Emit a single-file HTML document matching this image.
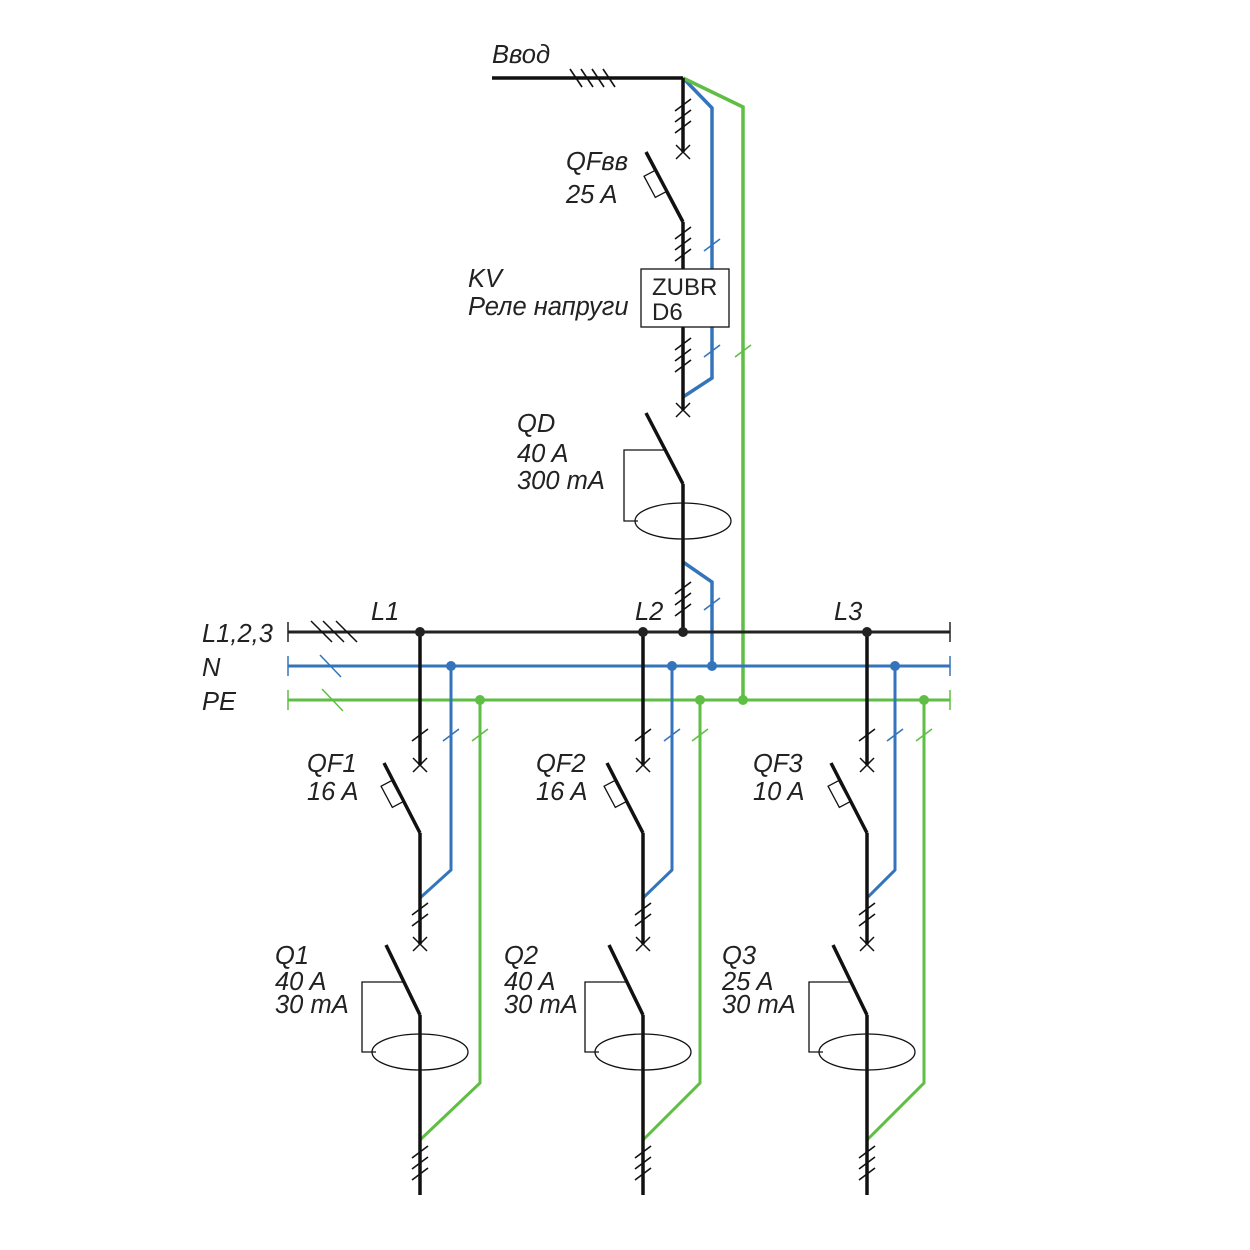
<!DOCTYPE html>
<html><head><meta charset="utf-8"><style>
html,body{margin:0;padding:0;background:#fff}
svg{display:block}
text{font-family:"Liberation Sans",sans-serif;font-style:italic;font-size:25.5px;fill:#222}
</style></head><body>
<svg width="1250" height="1250" viewBox="0 0 1250 1250" xmlns="http://www.w3.org/2000/svg">
<defs>
<g id="tick"><line x1="-8" y1="6" x2="8" y2="-6" stroke-width="1.6"/></g>
<g id="tk2"><line x1="-6" y1="-9" x2="6" y2="9" stroke-width="1.6"/></g>
<g id="xx"><line x1="-7" y1="-7" x2="7" y2="7" stroke="#111" stroke-width="1.5"/><line x1="-7" y1="7" x2="7" y2="-7" stroke="#111" stroke-width="1.5"/></g>
</defs>

<text x="492" y="63">Ввод</text>
<polyline points="683,78 712,108 712,378 683,397" fill="none" stroke="#3474bb" stroke-width="3.5"/>
<polyline points="683,78 743,107 743,700" fill="none" stroke="#5fbe44" stroke-width="3.5"/>
<line x1="492" y1="78" x2="683" y2="78" stroke="#111" stroke-width="3.5"/>
<g stroke="#111"><use href="#tk2" x="576" y="78"/><use href="#tk2" x="587" y="78"/><use href="#tk2" x="598" y="78"/><use href="#tk2" x="609" y="78"/></g>
<line x1="683" y1="78" x2="683" y2="152" stroke="#111" stroke-width="3.5"/>
<g stroke="#111"><use href="#tick" x="683" y="105"/><use href="#tick" x="683" y="116"/><use href="#tick" x="683" y="127"/></g>
<use href="#xx" x="683" y="152"/>

<text x="566" y="170">QFвв</text>
<text x="566" y="203">25 A</text>
<line x1="646" y1="152" x2="683" y2="222" stroke="#111" stroke-width="3.5"/>
<rect x="649" y="172" width="12" height="24" fill="#fff" stroke="#111" stroke-width="1.3" transform="rotate(-28 655 184)"/>
<line x1="683" y1="222" x2="683" y2="269" stroke="#111" stroke-width="3.5"/>
<g stroke="#111"><use href="#tick" x="683" y="233"/><use href="#tick" x="683" y="244"/><use href="#tick" x="683" y="255"/></g>
<g stroke="#3474bb"><use href="#tick" x="712" y="245"/><use href="#tick" x="712" y="351"/></g>
<g stroke="#5fbe44"><use href="#tick" x="743" y="351"/></g>

<text x="468" y="287">KV</text>
<text x="468" y="315">Реле напруги</text>
<rect x="641" y="269" width="88" height="58" fill="#fff" stroke="#111" stroke-width="1.3"/>
<text x="652" y="295" style="font-style:normal;font-size:24px">ZUBR</text>
<text x="652" y="320" style="font-style:normal;font-size:24px">D6</text>
<line x1="683" y1="327" x2="683" y2="410" stroke="#111" stroke-width="3.5"/>
<g stroke="#111"><use href="#tick" x="683" y="344"/><use href="#tick" x="683" y="355"/><use href="#tick" x="683" y="366"/></g>
<use href="#xx" x="683" y="410"/>

<text x="517" y="432">QD</text>
<text x="517" y="462">40 A</text>
<text x="517" y="489">300 mA</text>
<line x1="646" y1="413" x2="683" y2="484" stroke="#111" stroke-width="3.5"/>
<polyline points="664,450 624,450 624,521 638,521" fill="none" stroke="#111" stroke-width="1.3"/>
<ellipse cx="683" cy="521" rx="48" ry="18" fill="none" stroke="#111" stroke-width="1.3"/>
<polyline points="683,562 712,582 712,666" fill="none" stroke="#3474bb" stroke-width="3.5"/>
<line x1="683" y1="484" x2="683" y2="632" stroke="#111" stroke-width="3.5"/>
<g stroke="#111"><use href="#tick" x="683" y="588"/><use href="#tick" x="683" y="599"/><use href="#tick" x="683" y="610"/></g>
<g stroke="#3474bb"><use href="#tick" x="712" y="604"/></g>

<text x="202" y="642">L1,2,3</text>
<text x="202" y="676">N</text>
<text x="202" y="710">PE</text>
<text x="371" y="620">L1</text>
<text x="635" y="620">L2</text>
<text x="834" y="620">L3</text>
<line x1="288" y1="632" x2="950" y2="632" stroke="#222" stroke-width="3"/>
<line x1="288" y1="666" x2="950" y2="666" stroke="#3474bb" stroke-width="3"/>
<line x1="288" y1="700" x2="950" y2="700" stroke="#5fbe44" stroke-width="3"/>
<line x1="288" y1="622" x2="288" y2="642" stroke="#222" stroke-width="1.5"/>
<line x1="950" y1="622" x2="950" y2="642" stroke="#222" stroke-width="1.5"/>
<line x1="288" y1="656" x2="288" y2="676" stroke="#3474bb" stroke-width="1.5"/>
<line x1="950" y1="656" x2="950" y2="676" stroke="#3474bb" stroke-width="1.5"/>
<line x1="288" y1="690" x2="288" y2="710" stroke="#5fbe44" stroke-width="1.5"/>
<line x1="950" y1="690" x2="950" y2="710" stroke="#5fbe44" stroke-width="1.5"/>
<g stroke="#111" stroke-width="1.5"><line x1="311" y1="621" x2="332" y2="642"/><line x1="323" y1="621" x2="344" y2="642"/><line x1="336" y1="621" x2="357" y2="642"/></g>
<line x1="320" y1="655" x2="341" y2="677" stroke="#3474bb" stroke-width="1.5"/>
<line x1="322" y1="689" x2="343" y2="711" stroke="#5fbe44" stroke-width="1.5"/>

<g fill="none" stroke-width="3">
<polyline points="451,666 451,870 420,898" stroke="#3474bb"/>
<polyline points="672,666 672,870 643,898" stroke="#3474bb"/>
<polyline points="895,666 895,870 867,898" stroke="#3474bb"/>
<polyline points="480,700 480,1083 420,1140" stroke="#5fbe44"/>
<polyline points="700,700 700,1083 643,1140" stroke="#5fbe44"/>
<polyline points="924,700 924,1083 867,1140" stroke="#5fbe44"/>
</g>
<g stroke="#3474bb"><use href="#tick" x="451" y="735"/><use href="#tick" x="672" y="735"/><use href="#tick" x="895" y="735"/></g>
<g stroke="#5fbe44"><use href="#tick" x="480" y="735"/><use href="#tick" x="700" y="735"/><use href="#tick" x="924" y="735"/></g>

<g id="br">
<line x1="420" y1="632" x2="420" y2="765" stroke="#111" stroke-width="3.5"/>
<g stroke="#111"><use href="#tick" x="420" y="735"/></g>
<use href="#xx" x="420" y="765"/>
<line x1="384" y1="763" x2="420" y2="833" stroke="#111" stroke-width="3.5"/>
<rect x="386" y="782" width="12" height="24" fill="#fff" stroke="#111" stroke-width="1.3" transform="rotate(-28 392 794)"/>
<line x1="420" y1="833" x2="420" y2="944" stroke="#111" stroke-width="3.5"/>
<g stroke="#111"><use href="#tick" x="420" y="909"/><use href="#tick" x="420" y="920"/></g>
<use href="#xx" x="420" y="944"/>
<line x1="386" y1="945" x2="420" y2="1015" stroke="#111" stroke-width="3.5"/>
<polyline points="404,982 362,982 362,1052 376,1052" fill="none" stroke="#111" stroke-width="1.3"/>
<ellipse cx="420" cy="1052" rx="48" ry="18" fill="none" stroke="#111" stroke-width="1.3"/>
<line x1="420" y1="1015" x2="420" y2="1195" stroke="#111" stroke-width="3.5"/>
<g stroke="#111"><use href="#tick" x="420" y="1152"/><use href="#tick" x="420" y="1163"/><use href="#tick" x="420" y="1174"/></g>
</g>
<use href="#br" x="223" y="0"/>
<use href="#br" x="447" y="0"/>

<g fill="#222"><circle cx="420" cy="632" r="5"/><circle cx="643" cy="632" r="5"/><circle cx="683" cy="632" r="5"/><circle cx="867" cy="632" r="5"/></g>
<g fill="#3474bb"><circle cx="451" cy="666" r="5"/><circle cx="672" cy="666" r="5"/><circle cx="712" cy="666" r="5"/><circle cx="895" cy="666" r="5"/></g>
<g fill="#5fbe44"><circle cx="480" cy="700" r="5"/><circle cx="700" cy="700" r="5"/><circle cx="743" cy="700" r="5"/><circle cx="924" cy="700" r="5"/></g>

<text x="307" y="772">QF1</text><text x="307" y="800">16 A</text>
<text x="536" y="772">QF2</text><text x="536" y="800">16 A</text>
<text x="753" y="772">QF3</text><text x="753" y="800">10 A</text>
<text x="275" y="964">Q1</text><text x="275" y="990">40 A</text><text x="275" y="1013">30 mA</text>
<text x="504" y="964">Q2</text><text x="504" y="990">40 A</text><text x="504" y="1013">30 mA</text>
<text x="722" y="964">Q3</text><text x="722" y="990">25 A</text><text x="722" y="1013">30 mA</text>
</svg>
</body></html>
